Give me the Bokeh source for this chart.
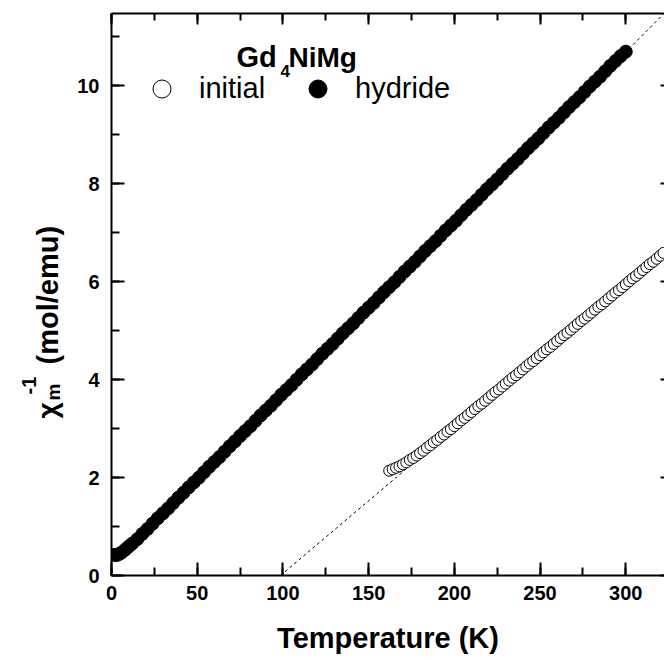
import math
from bokeh.plotting import figure
from bokeh.layouts import row
from bokeh.models import (Range1d, LinearAxis, Label, Legend, LegendItem,
                          SingleIntervalTicker, ColumnDataSource,
                          CustomLabelingPolicy)
from bokeh.core.properties import value
from bokeh.embed import file_html
from bokeh.resources import INLINE

# ---------------- data ----------------
T_hydride = [1.8, 3, 4.5, 6, 8, 10, 12, 15,
             18, 21, 24, 27, 30, 33, 36, 39, 42, 45, 48, 51, 54, 57, 60, 63, 66, 69,
             72, 75, 78, 81, 84, 87, 90, 93, 96, 99, 102, 105, 108, 111, 114, 117,
             120, 123, 126, 129, 132, 135, 138, 141, 144, 147, 150, 153, 156, 159,
             162, 165, 168, 171, 174, 177, 180, 183, 186, 189, 192, 195, 198, 201,
             204, 207, 210, 213, 216, 219, 222, 225, 228, 231, 234, 237, 240, 243,
             246, 249, 252, 255, 258, 261, 264, 267, 270, 273, 276, 279, 282, 285,
             288, 291, 294, 297, 300]
chi_hydride = [0.42, 0.42, 0.44, 0.47, 0.53, 0.59, 0.65, 0.74,
               0.85, 0.95, 1.06, 1.17, 1.27, 1.37, 1.48, 1.59, 1.69, 1.80, 1.90, 2.00,
               2.11, 2.22, 2.32, 2.42, 2.53, 2.64, 2.74, 2.85, 2.95, 3.05, 3.16, 3.27,
               3.37, 3.47, 3.58, 3.69, 3.79, 3.89, 4.00, 4.11, 4.21, 4.31, 4.42, 4.53,
               4.63, 4.73, 4.84, 4.95, 5.05, 5.15, 5.26, 5.37, 5.47, 5.57, 5.68, 5.79,
               5.89, 5.99, 6.10, 6.21, 6.31, 6.41, 6.52, 6.63, 6.73, 6.83, 6.94, 7.05,
               7.15, 7.25, 7.36, 7.47, 7.57, 7.67, 7.78, 7.89, 7.99, 8.09, 8.20, 8.31,
               8.41, 8.51, 8.62, 8.73, 8.83, 8.93, 9.04, 9.15, 9.25, 9.35, 9.46, 9.57,
               9.67, 9.77, 9.88, 9.99, 10.09, 10.19, 10.30, 10.41, 10.51, 10.61, 10.70]

T_initial = [162, 164, 166, 168, 170, 172, 174, 176, 178, 180, 182, 184, 186, 188,
             190, 192, 194, 196, 198, 200, 202, 204, 206, 208, 210, 212, 214, 216,
             218, 220, 222, 224, 226, 228, 230, 232, 234, 236, 238, 240, 242, 244,
             246, 248, 250, 252, 254, 256, 258, 260, 262, 264, 266, 268, 270, 272,
             274, 276, 278, 280, 282, 284, 286, 288, 290, 292, 294, 296, 298, 300,
             302, 304, 306, 308, 310, 312, 314, 316, 318, 320, 322]
chi_initial = [2.14, 2.17, 2.20, 2.23, 2.27, 2.31, 2.36, 2.40, 2.45, 2.50, 2.55, 2.61,
               2.66, 2.72, 2.77, 2.83, 2.88, 2.94, 2.99, 3.05, 3.11, 3.17, 3.22, 3.28,
               3.34, 3.40, 3.46, 3.51, 3.57, 3.63, 3.69, 3.75, 3.80, 3.86, 3.92, 3.98,
               4.04, 4.09, 4.15, 4.21, 4.27, 4.33, 4.38, 4.44, 4.50, 4.56, 4.62, 4.67,
               4.73, 4.79, 4.85, 4.91, 4.96, 5.02, 5.08, 5.14, 5.20, 5.25, 5.31, 5.37,
               5.43, 5.49, 5.54, 5.60, 5.66, 5.72, 5.78, 5.83, 5.89, 5.95, 6.01, 6.07,
               6.12, 6.18, 6.24, 6.30, 6.36, 6.41, 6.47, 6.53, 6.59]

# Curie-Weiss fit lines (dashed)
fit_initial_T = [98.6, 330]
fit_initial_chi = [0.0, 6.87]
fit_hydride_T = [250, 330]
fit_hydride_chi = [8.93, 11.75]

legend_labels = ["initial", "hydride"]
compound = ["Gd", "4", "NiMg"]
ylabel_parts = ["\u03c7", "m", "-1", "(mol/emu)"]
x_label = "Temperature (K)"

X_END = 322.6
Y_END = 11.48
FONT = "Liberation Sans"

FRAME_LEFT = 111
FRAME_TOP, FRAME_H, FRAME_BOTTOM_BORDER = 13, 562, 85
FRAME_BOTTOM = FRAME_TOP + FRAME_H      # 575 px from top of page

# ---------------- left strip holding the rotated y-axis title ----------------
LW = 70
lf = figure(frame_width=LW, frame_height=FRAME_H,
            min_border_left=0, min_border_right=0,
            min_border_top=FRAME_TOP, min_border_bottom=FRAME_BOTTOM_BORDER,
            x_range=Range1d(0, LW), y_range=Range1d(0, FRAME_H),
            output_backend="svg", toolbar_location=None,
            x_axis_location=None, y_axis_location=None)
lf.outline_line_color = None
lf.xgrid.visible = False
lf.ygrid.visible = False


def vtext(x, y_top, txt, size):
    lf.text(x=[x], y=[FRAME_BOTTOM - y_top], text=[txt], angle=math.pi / 2,
            text_font=value(FONT), text_font_style="bold",
            text_font_size=size, text_color="black",
            text_align="left", text_baseline="alphabetic")


vtext(47, 418, ylabel_parts[0], "28px")
vtext(53, 400, ylabel_parts[1], "19px")
vtext(28, 394, ylabel_parts[2], "20px")
vtext(47, 364, ylabel_parts[3], "29px")

# ---------------- main figure ----------------
p = figure(frame_width=553, frame_height=FRAME_H,
           x_range=Range1d(0, X_END), y_range=Range1d(0, Y_END),
           output_backend="svg", toolbar_location=None,
           min_border_left=FRAME_LEFT - LW, min_border_right=0,
           min_border_top=FRAME_TOP, min_border_bottom=FRAME_BOTTOM_BORDER,
           x_axis_label=x_label)
p.outline_line_color = None
p.xgrid.visible = False
p.ygrid.visible = False

xt = SingleIntervalTicker(interval=50, num_minor_ticks=2)
yt = SingleIntervalTicker(interval=2, num_minor_ticks=2)
p.xaxis.ticker = xt
p.yaxis.ticker = yt

for ax in (p.xaxis[0], p.yaxis[0]):
    ax.axis_line_width = 2
    ax.major_tick_line_width = 2
    ax.minor_tick_line_width = 2
    ax.major_tick_in = 13
    ax.major_tick_out = 0
    ax.minor_tick_in = 8
    ax.minor_tick_out = 0
    ax.major_label_text_font = FONT
    ax.major_label_text_font_style = "bold"
    ax.major_label_text_font_size = "20px"
    ax.major_label_text_color = "black"
    ax.axis_label_text_font = FONT
    ax.axis_label_text_font_style = "bold"
    ax.axis_label_text_font_size = "29px"
    ax.axis_label_text_color = "black"

p.xaxis.major_label_standoff = 10
p.xaxis.axis_label_standoff = 19
p.yaxis.major_label_standoff = 12

# mirror axes (ticks only, no labels)
no_labels = CustomLabelingPolicy(code="""
for (const i of Array.from(indices)) { indices.unset(i) }
return indices
""")
top = LinearAxis(ticker=xt, major_label_text_font_size="0px",
                 major_label_standoff=0, axis_line_width=2,
                 major_tick_line_width=2, minor_tick_line_width=2,
                 major_tick_in=11, major_tick_out=0, minor_tick_in=7,
                 minor_tick_out=0, major_label_policy=no_labels)
p.add_layout(top, "above")
right = LinearAxis(ticker=yt, major_label_text_font_size="0px",
                   major_label_standoff=0, axis_line_color=None,
                   major_tick_line_width=2, major_tick_in=4, major_tick_out=0,
                   minor_tick_in=0, minor_tick_out=0,
                   major_label_policy=no_labels)
p.add_layout(right, "right")

# ---------------- data renderers ----------------
p.line(fit_initial_T, fit_initial_chi, line_color="black", line_width=1,
       line_dash="3 3")
p.line(fit_hydride_T, fit_hydride_chi, line_color="black", line_width=1,
       line_dash="3 3")

src_i = ColumnDataSource(dict(T=T_initial, chi=chi_initial))
src_h = ColumnDataSource(dict(T=T_hydride, chi=chi_hydride))
r_init = p.scatter("T", "chi", source=src_i, marker="circle", size=11,
                   fill_color="white", line_color="black", line_width=1)
r_hyd = p.scatter("T", "chi", source=src_h, marker="circle", size=13,
                  fill_color="black", line_color="black", line_width=1)

legend = Legend(items=[LegendItem(label=legend_labels[0], renderers=[r_init]),
                       LegendItem(label=legend_labels[1], renderers=[r_hyd])],
                orientation="horizontal", location=(28, 464),
                glyph_width=45, glyph_height=45, label_standoff=15,
                spacing=30, padding=0, margin=0,
                border_line_color=None, background_fill_alpha=0,
                label_text_font=FONT, label_text_font_size="29px",
                label_text_color="black")
p.add_layout(legend, "center")

# ---------------- compound title Gd4NiMg ----------------
sx = X_END / 553.0
sy = Y_END / FRAME_H


def lab(px, py, text, size):
    p.add_layout(Label(x=(px - FRAME_LEFT) * sx, y=(FRAME_BOTTOM - py) * sy,
                       text=text, text_font=FONT, text_font_style="bold",
                       text_font_size=size, text_color="black",
                       text_align="left", text_baseline="alphabetic"))


lab(236, 56.5, compound[0], "29px")
lab(280, 70, compound[1], "17px")
lab(288, 56.5, compound[2], "28px")

layout = row(lf, p, spacing=0)
open("out.html", "w").write(file_html(layout, INLINE))
